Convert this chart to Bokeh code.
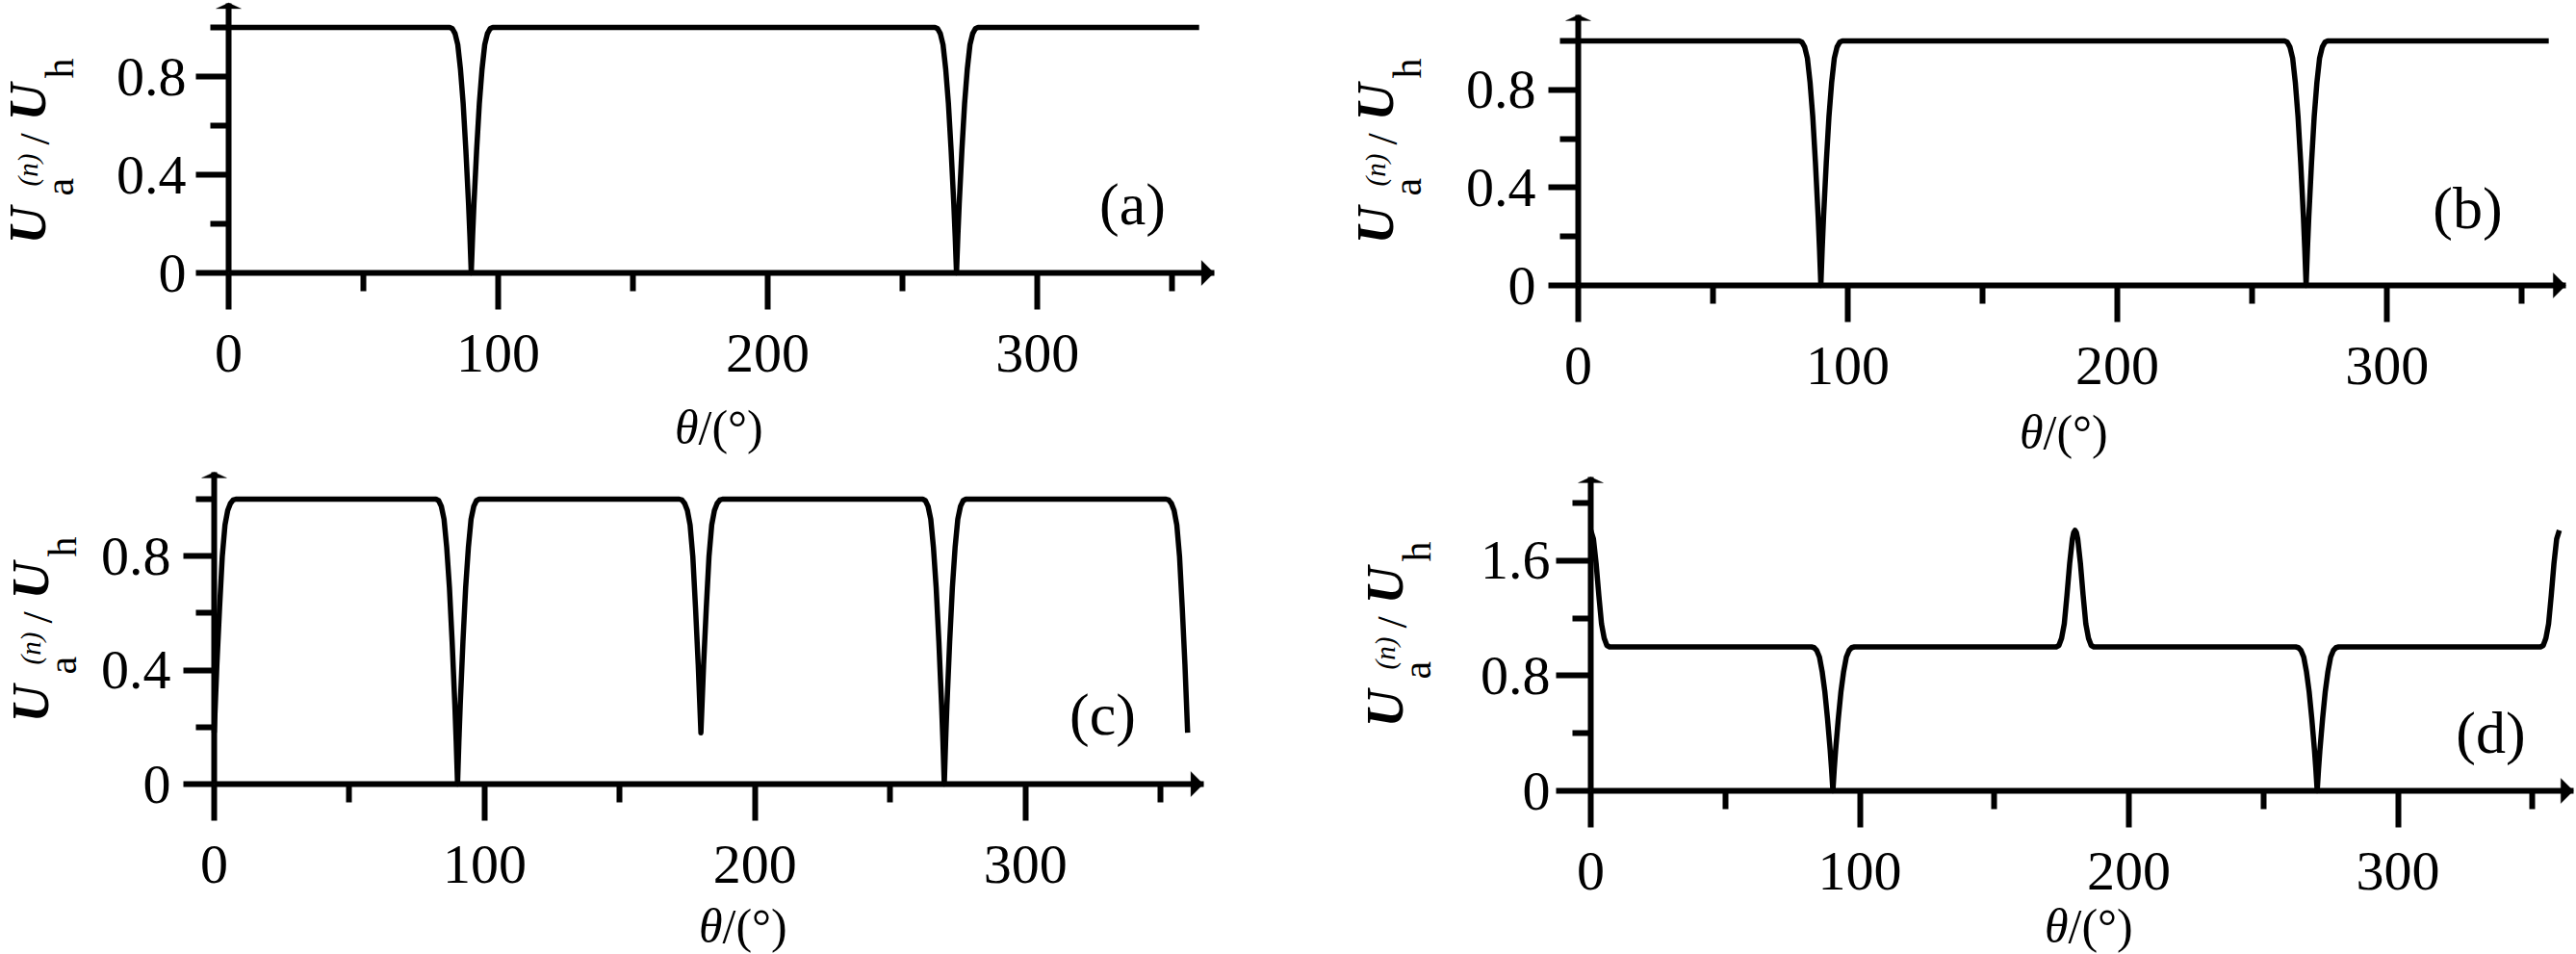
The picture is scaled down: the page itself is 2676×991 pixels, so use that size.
import math
from bokeh.plotting import figure
from bokeh.models import Range1d, FixedTicker, NumeralTickFormatter, Label, PolyAnnotation
from bokeh.layouts import column, row
from bokeh.embed import file_html
from bokeh.resources import INLINE

# ---------------- data ----------------
x_ticks = [0, 100, 200, 300]
x_minor = [50, 150, 250, 350]
y_ticks_abc = [0, 0.4, 0.8]
y_minor_abc = [0.2, 0.6, 1.0]
y_ticks_d = [0, 0.8, 1.6]
y_minor_d = [0.4, 1.2, 2.0]

theta_a = [0, 82, 83, 84, 85, 86, 87, 88, 89, 89.5, 90, 90.5, 91, 92, 93, 94, 95, 96, 97, 98,
           262, 263, 264, 265, 266, 267, 268, 269, 269.5, 270, 270.5, 271, 272, 273, 274, 275, 276, 277, 278, 360]
u_a = [1, 1, 0.995, 0.975, 0.93, 0.83, 0.69, 0.5, 0.28, 0.15, 0, 0.15, 0.28, 0.5, 0.69, 0.83, 0.93, 0.975, 0.995, 1,
       1, 0.995, 0.975, 0.93, 0.83, 0.69, 0.5, 0.28, 0.15, 0, 0.15, 0.28, 0.5, 0.69, 0.83, 0.93, 0.975, 0.995, 1, 1]

theta_b = [0, 82, 83, 84, 85, 86, 87, 88, 89, 89.5, 90, 90.5, 91, 92, 93, 94, 95, 96, 97, 98,
           262, 263, 264, 265, 266, 267, 268, 269, 269.5, 270, 270.5, 271, 272, 273, 274, 275, 276, 277, 278, 360]
u_b = [1, 1, 0.995, 0.975, 0.93, 0.83, 0.69, 0.5, 0.28, 0.15, 0, 0.15, 0.28, 0.5, 0.69, 0.83, 0.93, 0.975, 0.995, 1,
       1, 0.995, 0.975, 0.93, 0.83, 0.69, 0.5, 0.28, 0.15, 0, 0.15, 0.28, 0.5, 0.69, 0.83, 0.93, 0.975, 0.995, 1, 1]

theta_c = [0, 0.5, 1, 2, 3, 4, 5, 6, 7, 8,
           82, 83, 84, 85, 86, 87, 88, 89, 89.5, 90, 90.5, 91, 92, 93, 94, 95, 96, 97, 98,
           172, 173, 174, 175, 176, 177, 178, 179, 179.5, 180, 180.5, 181, 182, 183, 184, 185, 186, 187, 188,
           262, 263, 264, 265, 266, 267, 268, 269, 269.5, 270, 270.5, 271, 272, 273, 274, 275, 276, 277, 278,
           352, 353, 354, 355, 356, 357, 358, 359, 359.5, 360]
u_c = [0.18, 0.3, 0.42, 0.62, 0.8, 0.91, 0.96, 0.985, 0.997, 1,
       1, 0.995, 0.975, 0.93, 0.83, 0.69, 0.5, 0.28, 0.15, 0, 0.15, 0.28, 0.5, 0.69, 0.83, 0.93, 0.975, 0.995, 1,
       1, 0.997, 0.985, 0.96, 0.91, 0.8, 0.62, 0.42, 0.3, 0.18, 0.3, 0.42, 0.62, 0.8, 0.91, 0.96, 0.985, 0.997, 1,
       1, 0.995, 0.975, 0.93, 0.83, 0.69, 0.5, 0.28, 0.15, 0, 0.15, 0.28, 0.5, 0.69, 0.83, 0.93, 0.975, 0.995, 1,
       1, 0.997, 0.985, 0.96, 0.91, 0.8, 0.62, 0.42, 0.3, 0.18]

theta_d = [0, 1, 2, 3, 4, 5, 6, 7,
           82, 83, 84, 85, 86, 87, 88, 89, 89.5, 90, 90.5, 91, 92, 93, 94, 95, 96, 97, 98,
           173, 174, 175, 176, 177, 178, 179, 179.5, 180, 180.5, 181, 182, 183, 184, 185, 186, 187,
           262, 263, 264, 265, 266, 267, 268, 269, 269.5, 270, 270.5, 271, 272, 273, 274, 275, 276, 277, 278,
           353, 354, 355, 356, 357, 358, 359, 360]
u_d = [1.81, 1.75, 1.58, 1.36, 1.16, 1.06, 1.01, 1.0,
       1, 0.995, 0.975, 0.93, 0.83, 0.69, 0.5, 0.28, 0.15, 0, 0.15, 0.28, 0.5, 0.69, 0.83, 0.93, 0.975, 0.995, 1,
       1.0, 1.01, 1.06, 1.16, 1.36, 1.58, 1.75, 1.795, 1.81, 1.795, 1.75, 1.58, 1.36, 1.16, 1.06, 1.01, 1.0,
       1, 0.995, 0.975, 0.93, 0.83, 0.69, 0.5, 0.28, 0.15, 0, 0.15, 0.28, 0.5, 0.69, 0.83, 0.93, 0.975, 0.995, 1,
       1.0, 1.01, 1.06, 1.16, 1.36, 1.58, 1.75, 1.81]

panel_tags = ["(a)", "(b)", "(c)", "(d)"]

# ---------------- layout / style ----------------
FONT = "Liberation Serif"
BASE_SHIFT = 0.3375   # Label anchors sit this many em above the glyph baseline

# figure box (page px), axes origin (page px), px per unit, axis tips (data units)
panels = [
    dict(theta=theta_a, u=u_a, x0=0, y0=0, W=1330, H=478, L=237, B=283, ppx=2.8005, ppy=255,
         xtip=365.5, ytip=1.10, yt=y_ticks_abc, ym=y_minor_abc, ystand=10, yout=34,
         title=(47, 253), xl=(746, 460), tag=(1176, 232)),
    dict(theta=theta_b, u=u_b, x0=1330, y0=0, W=1346, H=478, L=1639, B=296, ppx=2.8005, ppy=254,
         xtip=366.3, ytip=1.106, yt=y_ticks_abc, ym=y_minor_abc, ystand=13, yout=31,
         title=(1447, 253), xl=(2143, 465), tag=(2563, 236)),
    dict(theta=theta_c, u=u_c, x0=0, y0=478, W=1330, H=513, L=222, B=814, ppx=2.809, ppy=296,
         xtip=365.8, ytip=1.095, yt=y_ticks_abc, ym=y_minor_abc, ystand=13, yout=32,
         title=(50, 750), xl=(771, 978), tag=(1145, 762)),
    dict(theta=theta_d, u=u_d, x0=1330, y0=478, W=1346, H=513, L=1652, B=821, ppx=2.795, ppy=149.5,
         xtip=365.2, ytip=2.18, yt=y_ticks_d, ym=y_minor_d, ystand=6, yout=36,
         title=(1457, 755), xl=(2169, 978), tag=(2587, 781)),
]


def make(cfg, tag):
    W, H = cfg["W"], cfg["H"]
    L, B, ppx, ppy = cfg["L"], cfg["B"], cfg["ppx"], cfg["ppy"]
    xr = Range1d((cfg["x0"] - L) / ppx, (cfg["x0"] + W - L) / ppx)
    yr = Range1d(-(cfg["y0"] + H - B) / ppy, (B - cfg["y0"]) / ppy)
    p = figure(width=W, height=H, x_range=xr, y_range=yr, title=None,
               output_backend="svg", toolbar_location=None,
               min_border_left=0, min_border_right=0, min_border_top=0, min_border_bottom=0)
    p.grid.visible = False
    p.outline_line_color = None
    p.background_fill_color = "white"
    p.border_fill_color = "white"

    p.line(cfg["theta"], cfg["u"], line_width=5.5, color="black", line_join="round")

    for ax in (p.xaxis[0], p.yaxis[0]):
        ax.fixed_location = 0
        ax.axis_line_width = 6
        ax.axis_line_color = "black"
        ax.major_tick_line_width = 6
        ax.minor_tick_line_width = 6
        ax.major_tick_line_color = "black"
        ax.minor_tick_line_color = "black"
        ax.major_tick_in = 0
        ax.minor_tick_in = 0
        ax.minor_tick_out = 19
        ax.major_label_text_font = FONT
        ax.major_label_text_font_size = "58px"
        ax.major_label_text_color = "black"

    p.xaxis.bounds = (0, cfg["xtip"])
    p.xaxis.ticker = FixedTicker(ticks=x_ticks, minor_ticks=x_minor)
    p.xaxis.major_tick_out = 38
    p.xaxis.major_label_standoff = 26
    p.xaxis.formatter = NumeralTickFormatter(format="0")

    p.yaxis.bounds = (0, cfg["ytip"])
    p.yaxis.ticker = FixedTicker(ticks=cfg["yt"], minor_ticks=cfg["ym"])
    p.yaxis.major_tick_out = cfg["yout"]
    p.yaxis.major_label_standoff = cfg["ystand"]
    p.yaxis.formatter = NumeralTickFormatter(format="0.[0]")

    def txt(px, py, text, size, style="normal", align="left", rotated=False):
        # (px, py) is the glyph baseline start in page pixels
        if rotated:
            px = px - BASE_SHIFT * size
            ang = math.pi / 2
        else:
            py = py - BASE_SHIFT * size
            ang = 0.0
        p.add_layout(Label(x=0, y=0, x_offset=px - L, y_offset=B - py, text=text,
                           text_font=FONT, text_font_size=f"{size}px", text_font_style=style,
                           text_align=align, text_baseline="alphabetic", angle=ang,
                           text_color="black"))

    # arrow heads on the axes
    xe, ye = cfg["xtip"], cfg["ytip"]
    p.add_layout(PolyAnnotation(xs=[xe, xe - 13 / ppx, xe - 13 / ppx], ys=[0, 13 / ppy, -13 / ppy],
                                fill_color="black", fill_alpha=1, line_color="black", line_width=1))
    p.add_layout(PolyAnnotation(xs=[0, -13 / ppx, 13 / ppx], ys=[ye, ye - 6 / ppy, ye - 6 / ppy],
                                fill_color="black", fill_alpha=1, line_color="black", line_width=1))

    # y-axis title  U_a^(n) / U_h  (rotated, reading upwards)
    ax0, ay0 = cfg["title"]
    txt(ax0, ay0, "U", 54, "bold italic", rotated=True)
    txt(ax0 + 29, ay0 - 50, "a", 42, "normal", rotated=True)
    txt(ax0 - 9, ay0 - 60, "(n)", 29, "italic", rotated=True)
    txt(ax0 + 4, ay0 - 103, "/", 44, "normal", rotated=True)
    txt(ax0, ay0 - 128, "U", 54, "bold italic", rotated=True)
    txt(ax0 + 29, ay0 - 172, "h", 42, "normal", rotated=True)

    # x-axis title  θ/(°)
    cx, by = cfg["xl"]
    txt(cx - 21, by, "θ", 50, "italic", align="right")
    txt(cx - 21, by, "/(°)", 50, "normal", align="left")

    # panel tag
    tx, ty = cfg["tag"]
    txt(tx, ty, tag, 62, "normal", align="center")
    return p


figs = [make(c, t) for c, t in zip(panels, panel_tags)]
layout = column(row(figs[0], figs[1]), row(figs[2], figs[3]))

open("out.html", "w").write(file_html(layout, INLINE))
